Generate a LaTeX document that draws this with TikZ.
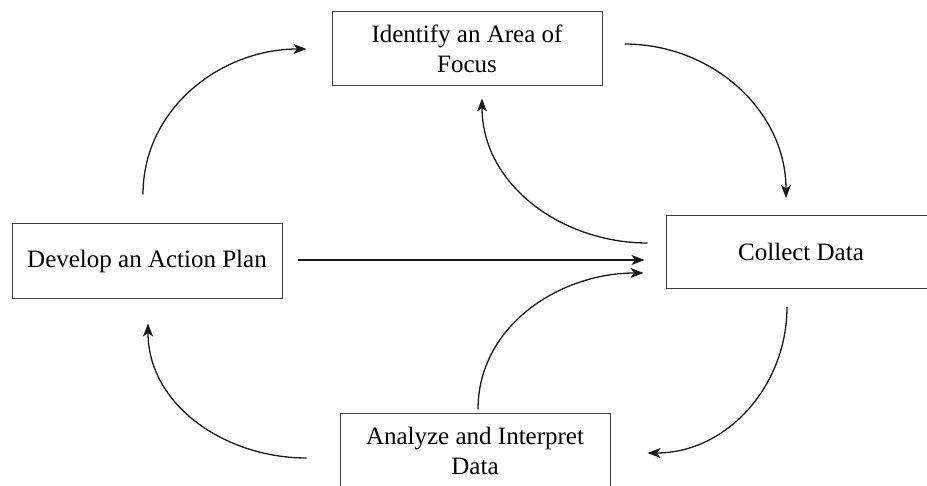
\documentclass[tikz,border=0pt]{standalone}
\usepackage{fontspec}
\setmainfont{Liberation Serif}
\usepackage{tikz}
\usetikzlibrary{
  arrows.meta,
  positioning
}

\begin{document}
\begin{tikzpicture}[
  x=1pt, y=1pt,
  font=\fontsize{25}{30}\selectfont,
  >={Stealth[length=13pt, width=10pt, inset=3.5pt]},
  stage/.style={draw=black!75, line width=1pt, align=center,
    minimum width=270pt, inner sep=0pt},
  cyc/.style={->, line width=1.3pt, black!90},
]
  \useasboundingbox (0,0) rectangle (927,485);

  % stages
  \node[stage, minimum height=74pt] (focus) at (467,436) {Identify an Area of\\Focus};
  \node[stage, minimum height=75pt] (plan) at (147,223.5) {Develop an Action Plan};
  \node[stage, minimum height=73pt] (collect) at (801,233) {Collect Data};
  \node[stage, minimum height=74pt] (analyze) at (475,34) {Analyze and Interpret\\Data};

  % outer cycle
  \draw[cyc] ([xshift=-4pt, yshift=29pt]plan.north) to[out=90, in=180]
    ([xshift=-25pt]focus.west);
  \draw[cyc] ([xshift=22pt, yshift=5pt]focus.east) to[out=0, in=90]
    ([xshift=-15pt, yshift=17pt]collect.north);
  \draw[cyc] ([xshift=-14pt, yshift=-18pt]collect.south) to[out=-90, in=0]
    ([xshift=37pt, yshift=-2pt]analyze.east);
  \draw[cyc] ([xshift=-33pt, yshift=-7pt]analyze.west) to[out=180, in=-90]
    ([xshift=1pt, yshift=-24pt]plan.south);

  % back to collect data
  \draw[cyc] ([xshift=-18pt, yshift=9pt]collect.west) to[out=180, in=-90]
    ([xshift=15pt, yshift=-12pt]focus.south);
  \draw[cyc] ([xshift=15pt, yshift=1.5pt]plan.east) --
    ([xshift=-21pt, yshift=-8pt]collect.west);
  \draw[cyc] ([xshift=3pt, yshift=4pt]analyze.north) to[out=90, in=180]
    ([xshift=-22pt, yshift=-21pt]collect.west);
\end{tikzpicture}
\end{document}
